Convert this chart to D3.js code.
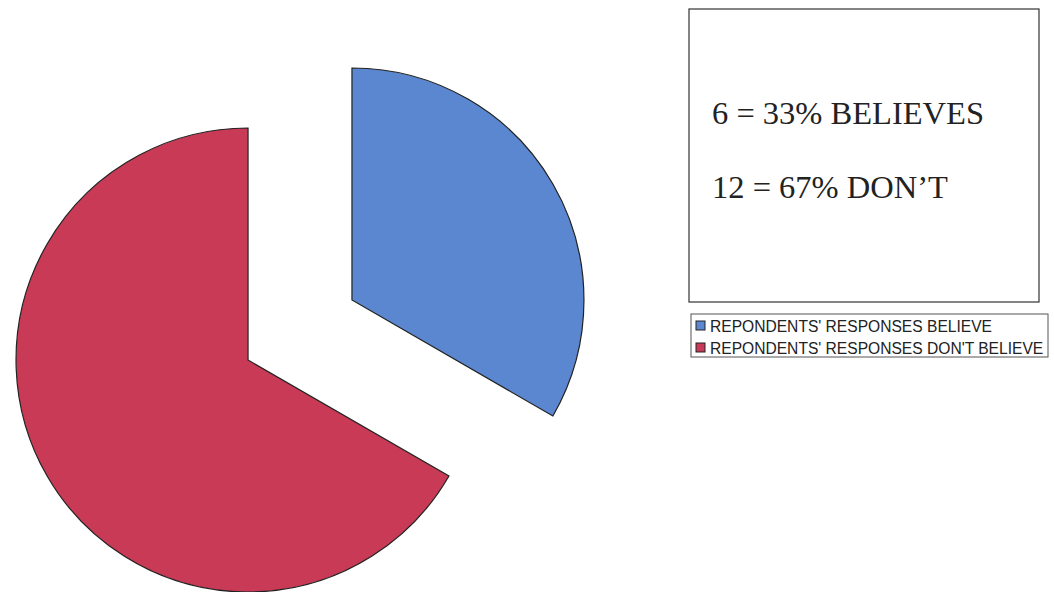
<!DOCTYPE html>
<html>
<head>
<meta charset="utf-8">
<script src="https://cdn.jsdelivr.net/npm/d3@7"></script>
<style>
  body { margin: 0; background: #fff; }
  svg { display: block; }
</style>
</head>
<body>
<svg width="1054" height="592"></svg>
<script>
var categories = ["REPONDENTS' RESPONSES BELIEVE", "REPONDENTS' RESPONSES DON'T BELIEVE"];
var values = [6, 12];
var colors = ["#5a87cf", "#c83a55"];
var noteLines = ["6 = 33% BELIEVES", "12 = 67% DON\u2019T"];

var svg = d3.select("svg");

// pie: starts at 12 o'clock, clockwise, both slices pulled apart
var cx = 300, cy = 330, radius = 232, explode = 60;

var pie = d3.pie().sort(null).value(function (d) { return d; });
var arc = d3.arc().innerRadius(0).outerRadius(radius);

var g = svg.append("g").attr("transform", "translate(" + cx + "," + cy + ")");

g.selectAll("path")
  .data(pie(values))
  .enter().append("path")
  .attr("d", arc)
  .attr("fill", function (d, i) { return colors[i]; })
  .attr("stroke", "#222")
  .attr("stroke-width", 1.2)
  .attr("stroke-linejoin", "miter")
  .attr("transform", function (d) {
    var a = (d.startAngle + d.endAngle) / 2;
    return "translate(" + (Math.sin(a) * explode) + "," + (-Math.cos(a) * explode) + ")";
  });

// text box
var box = svg.append("g");
box.append("rect")
  .attr("x", 689).attr("y", 9)
  .attr("width", 350).attr("height", 293)
  .attr("fill", "#fff")
  .attr("stroke", "#333")
  .attr("stroke-width", 1.2);

box.selectAll("text")
  .data(noteLines)
  .enter().append("text")
  .attr("x", 712)
  .attr("y", function (d, i) { return 124 + i * 74; })
  .attr("font-family", "'Liberation Serif', 'Times New Roman', serif")
  .attr("font-size", 32.5)
  .attr("fill", "#222")
  .text(function (d) { return d; });

// legend
var legend = svg.append("g");
legend.append("rect")
  .attr("x", 691).attr("y", 314)
  .attr("width", 357).attr("height", 43)
  .attr("fill", "#fff")
  .attr("stroke", "#555")
  .attr("stroke-width", 1);

var item = legend.selectAll(".item")
  .data(categories)
  .enter().append("g")
  .attr("class", "item")
  .attr("transform", function (d, i) { return "translate(696," + (326 + i * 22) + ")"; });

item.append("rect")
  .attr("x", 0).attr("y", -5)
  .attr("width", 9).attr("height", 9)
  .attr("fill", function (d, i) { return colors[i]; })
  .attr("stroke", "#222")
  .attr("stroke-width", 1);

item.append("text")
  .attr("x", 14)
  .attr("dy", "0.36em")
  .attr("font-family", "'Liberation Sans', Arial, sans-serif")
  .attr("font-size", 15.6)
  .attr("fill", "#222")
  .text(function (d) { return d; });
</script>
</body>
</html>
